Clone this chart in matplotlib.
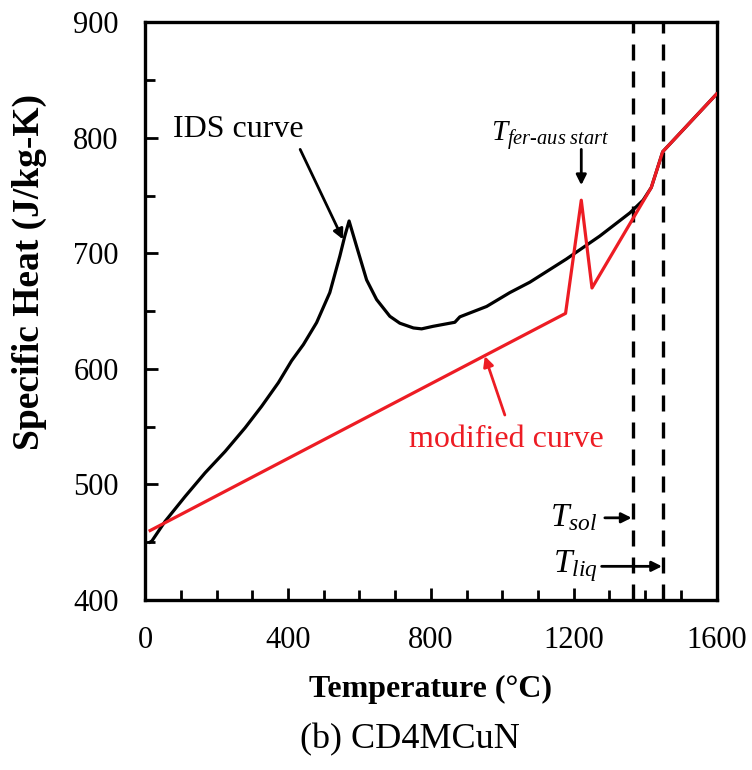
"""
Specific heat of CD4MCuN versus temperature: IDS curve and modified curve.
"""

import matplotlib.pyplot as plt
import numpy as np
from matplotlib.ticker import MultipleLocator

plt.rcParams['font.family'] = ['Liberation Serif', 'DejaVu Serif']
plt.rcParams['mathtext.fontset'] = 'custom'
plt.rcParams['mathtext.rm'] = 'Liberation Serif'
plt.rcParams['mathtext.it'] = 'Liberation Serif:italic'

RED = '#ed1c24'
BLACK = '#000000'

# IDS curve (temperature in C, specific heat in J/kg-K)
ids_temp = [14, 19, 56, 112, 168, 224, 280, 326, 373, 410, 443, 480, 517,
            545, 559, 571, 592, 620, 648, 685, 713, 751, 774, 806, 867, 881,
            956, 1021, 1077, 1179, 1273, 1357, 1394, 1417, 1449, 1600]
ids_cp = [450, 451, 468, 489.5, 510, 528.5, 549, 567.5, 588, 607, 621, 640, 666,
          697.5, 715, 728, 706, 677, 660, 645.5, 639.5, 635.4, 634.6, 636.8, 640.3, 645,
          654, 666, 675, 695, 715, 735, 746, 757, 788, 838]

# modified curve
mod_temp = [14, 1177, 1221, 1251, 1417, 1449, 1600]
mod_cp = [460, 648, 746, 670, 757, 788, 838]

# solidus / liquidus temperatures
t_sol = 1365
t_liq = 1450

fig = plt.figure(figsize=(7.52, 7.70), dpi=100)
ax = fig.add_axes([0.193, 0.221, 0.760, 0.750])

ax.plot(ids_temp, ids_cp, color=BLACK, lw=2.3, zorder=3)
ax.plot(mod_temp, mod_cp, color=RED, lw=2.3, zorder=4)

for t in (t_sol, t_liq):
    ax.axvline(t, color=BLACK, lw=2.4, dashes=(4.8, 3.3), zorder=2)

ax.set_xlim(0, 1600)
ax.set_ylim(400, 900)
ax.xaxis.set_major_locator(MultipleLocator(400))
ax.xaxis.set_minor_locator(MultipleLocator(100))
ax.yaxis.set_major_locator(MultipleLocator(100))
ax.yaxis.set_minor_locator(MultipleLocator(50))
ax.tick_params(which='both', direction='in', width=2, labelsize=22,
               top=False, right=False)
ax.tick_params(which='major', length=9, pad=19)
ax.tick_params(which='minor', length=7)
for s in ax.spines.values():
    s.set_linewidth(2.4)

ax.set_xlabel('Temperature (\u00b0C)', fontsize=23, fontweight='bold', labelpad=14)
ax.set_ylabel('Specific Heat (J/kg-K)', fontsize=27, fontweight='bold')
ax.yaxis.set_label_coords(-0.172, 0.568)
fig.text(0.545, 0.039, '(b) CD4MCuN', ha='center', va='center', fontsize=26)

arrow_k = dict(arrowstyle='-|>,head_length=0.6,head_width=0.3', color=BLACK, lw=2,
               shrinkA=0, shrinkB=0)
arrow_r = dict(arrowstyle='-|>,head_length=0.6,head_width=0.3', color=RED, lw=2,
               shrinkA=0, shrinkB=0)

ax.text(78, 807, 'IDS curve', fontsize=23, ha='left', va='center')
ax.annotate('', xy=(554, 712), xytext=(434, 790), arrowprops=arrow_k)

ax.text(1010, 539, 'modified curve', fontsize=23, color=RED, ha='center', va='center')
ax.annotate('', xy=(951, 611), xytext=(1007, 560), arrowprops=arrow_r)

ax.text(1133, 797, r'$T_{fer\text{-}aus\ start}$', fontsize=21, ha='center', va='baseline')
ax.annotate('', xy=(1221, 759), xytext=(1221, 790), arrowprops=arrow_k)

ax.text(1267, 471, r'$T_{sol}$', fontsize=24, ha='right', va='center')
ax.annotate('', xy=(t_sol - 3, 471), xytext=(1287, 471), arrowprops=arrow_k)

ax.text(1267, 429, r'$T_{liq}$', fontsize=24, ha='right', va='center')
ax.annotate('', xy=(t_liq - 3, 429), xytext=(1278, 429), arrowprops=arrow_k)

fig.savefig('out.png', dpi=100)
